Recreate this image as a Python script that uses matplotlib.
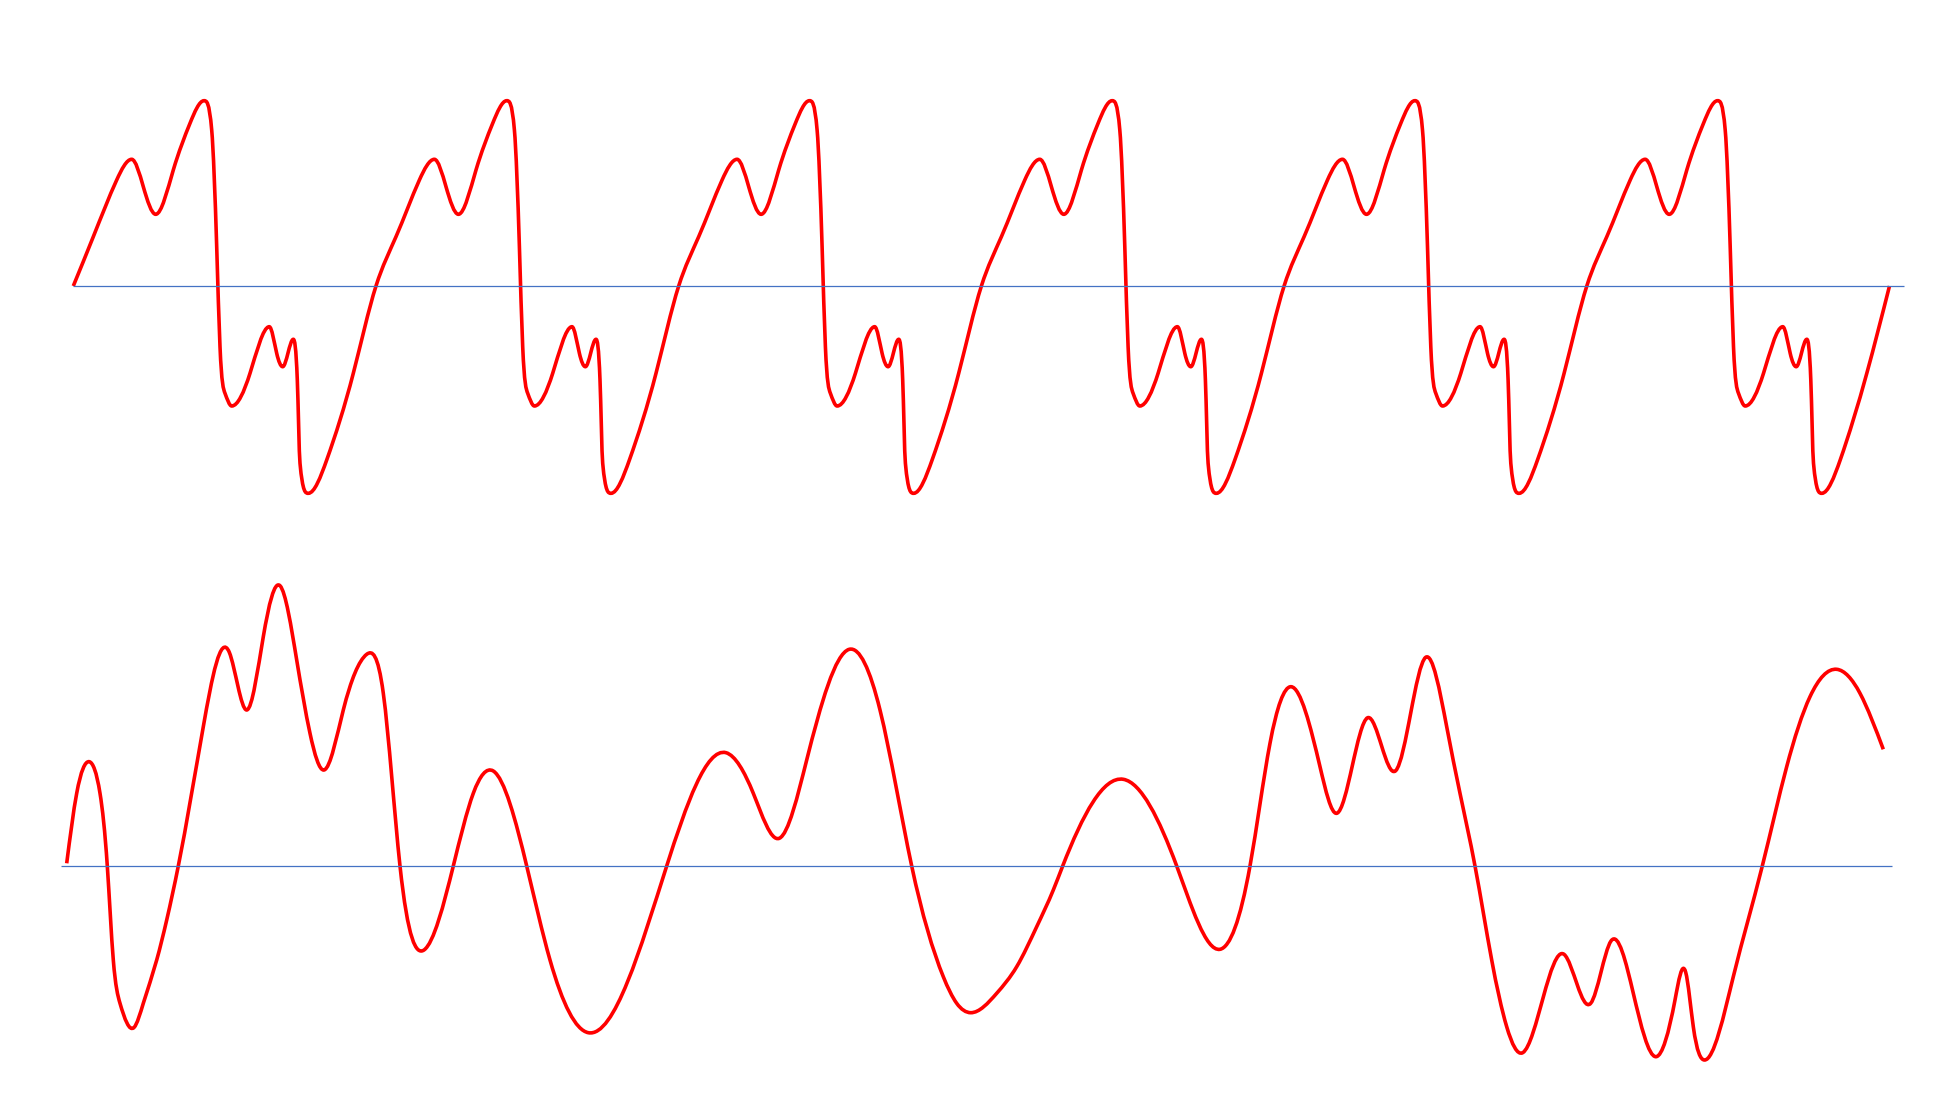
import numpy as np
import matplotlib
matplotlib.use("Agg")
import matplotlib.pyplot as plt
from matplotlib.path import Path
from matplotlib.patches import PathPatch

# top signal: one period (time, amplitude), repeated 6 times
period_t = [0, 20, 43.4, 58.4, 70, 82.4, 100, 116.7, 130.7, 138.4, 143.4, 146.7,
            151.7, 158.4, 176.7, 196, 203.4, 209.4, 220, 224, 226.7, 235, 253.4,
            280, 302.7]
period_a = [0, 49.3, 106, 126.7, 99.3, 71.7, 116, 162.7, 185.3, 156, 39.3, -60.7,
            -107.3, -120, -87.3, -40.7, -67.3, -80.7, -53.3, -94, -177.3, -207.3,
            -174, -87.3, 0]
n_periods = 6

# bottom signal (time, amplitude)
sig_t = [0, 10, 22.6, 33.3, 40.6, 46.6, 53.3, 67.3, 76.6, 90, 100, 111.6, 136.6,
         162.6, 180, 196.6, 213.3, 230, 243.3, 257.3, 276.6, 300, 316.6, 333.3,
         357.3, 386.6, 406.6, 426.6, 460, 483.3, 521.6, 600, 659.3, 686.6, 712.6,
         740, 782.6, 813.3, 845, 876.6, 890, 904, 930, 950, 970, 986.6, 996,
         1056.6, 1110, 1153.3, 1183.3, 1203.3, 1224.3, 1253.3, 1270, 1301, 1329,
         1359, 1380, 1393.3, 1408.3, 1425, 1440, 1456, 1497.3, 1524, 1544.3,
         1566.6, 1589.3, 1608.3, 1619, 1626.6, 1637.6, 1666.6, 1695.6, 1720,
         1743.3, 1770, 1793.3, 1816.6]
sig_a = [2.7, 72.7, 104.3, 72.7, 0, -94, -137.3, -161.5, -137.3, -94, -54, 0,
         139.3, 213.7, 156, 229.3, 280.3, 206, 132.7, 96, 156, 211.7, 172.7, 0,
         -84, 0, 72.7, 95, 0, -94, -166.7, 0, 113.3, 72.7, 27.7, 106, 216.7, 156,
         0, -110.7, -137.3, -146.7, -127.3, -100.7, -60.7, -24, 0, 86.7, 0, -83.3,
         0, 122.7, 179.3, 99.3, 52.7, 148.3, 95.3, 208.7, 139.3, 72.7, 0, -94,
         -160.7, -186.7, -88.3, -137.3, -75, -127.3, -190.7, -134, -106.3, -160.7,
         -194, -110.7, 0, 99.3, 169.3, 196.7, 172.7, 116.7]

red = "#ff0000"
blue = "#4472c4"


def smooth_path(x, y, flat_turns=True):
    # spline tangents (optionally flat at turning points and limited so no
    # segment overshoots); matplotlib then draws the cubic bezier segments
    x = np.asarray(x, float)
    y = np.asarray(y, float)
    n = len(x)
    h = np.diff(x)
    d = np.diff(y) / h
    A = np.zeros((n, n))
    b = np.zeros(n)
    A[0, 0], A[0, 1], b[0] = 2, 1, 3 * d[0]
    A[-1, -2], A[-1, -1], b[-1] = 1, 2, 3 * d[-1]
    for k in range(1, n - 1):
        if flat_turns and d[k - 1] * d[k] <= 0:
            A[k, k] = 1
        else:
            A[k, k - 1] = h[k]
            A[k, k] = 2 * (h[k - 1] + h[k])
            A[k, k + 1] = h[k - 1]
            b[k] = 3 * (h[k] * d[k - 1] + h[k - 1] * d[k])
    m = np.linalg.solve(A, b)
    if flat_turns:
        for k in range(n - 1):
            if d[k] == 0:
                m[k] = m[k + 1] = 0
                continue
            al, be = m[k] / d[k], m[k + 1] / d[k]
            if al < 0:
                m[k] = 0
            if be < 0:
                m[k + 1] = 0
            s = al * al + be * be
            if s > 9:
                t = 3 / np.sqrt(s)
                m[k] = t * al * d[k]
                m[k + 1] = t * be * d[k]
    verts = [(x[0], y[0])]
    codes = [Path.MOVETO]
    for k in range(n - 1):
        verts += [(x[k] + h[k] / 3, y[k] + m[k] * h[k] / 3),
                  (x[k + 1] - h[k] / 3, y[k + 1] - m[k + 1] * h[k] / 3),
                  (x[k + 1], y[k + 1])]
        codes += [Path.CURVE4] * 3
    return Path(verts, codes)


fig = plt.figure(figsize=(19.38, 11.01), dpi=100)
ax1 = fig.add_axes([0, 1 - 550 / 1101, 1, 550 / 1101])
ax2 = fig.add_axes([0, 0, 1, 551 / 1101])

# top panel
top_t = []
top_a = []
for k in range(n_periods):
    top_t += [t + k * period_t[-1] for t in period_t[:-1]]
    top_a += period_a[:-1]
top_t.append(n_periods * period_t[-1])
top_a.append(period_a[-1])

ax1.hlines(0, -0.5, top_t[-1] + 15, color=blue, lw=0.9)
ax1.add_patch(PathPatch(smooth_path(top_t, top_a), fill=False, edgecolor=red,
                        lw=2.6, capstyle="butt", joinstyle="round"))
ax1.set_xlim(-73.3, 1938 - 73.3)
ax1.set_ylim(-264, 286)
ax1.axis("off")

# bottom panel
ax2.hlines(0, -6, sig_t[-1] + 8.4, color=blue, lw=0.9)
ax2.add_patch(PathPatch(smooth_path(sig_t, sig_a, flat_turns=False), fill=False,
                        edgecolor=red, lw=2.6, capstyle="butt", joinstyle="round"))
ax2.set_xlim(-66.7, 1938 - 66.7)
ax2.set_ylim(-235, 316)
ax2.axis("off")

fig.savefig("out.png", dpi=100, facecolor="white")
